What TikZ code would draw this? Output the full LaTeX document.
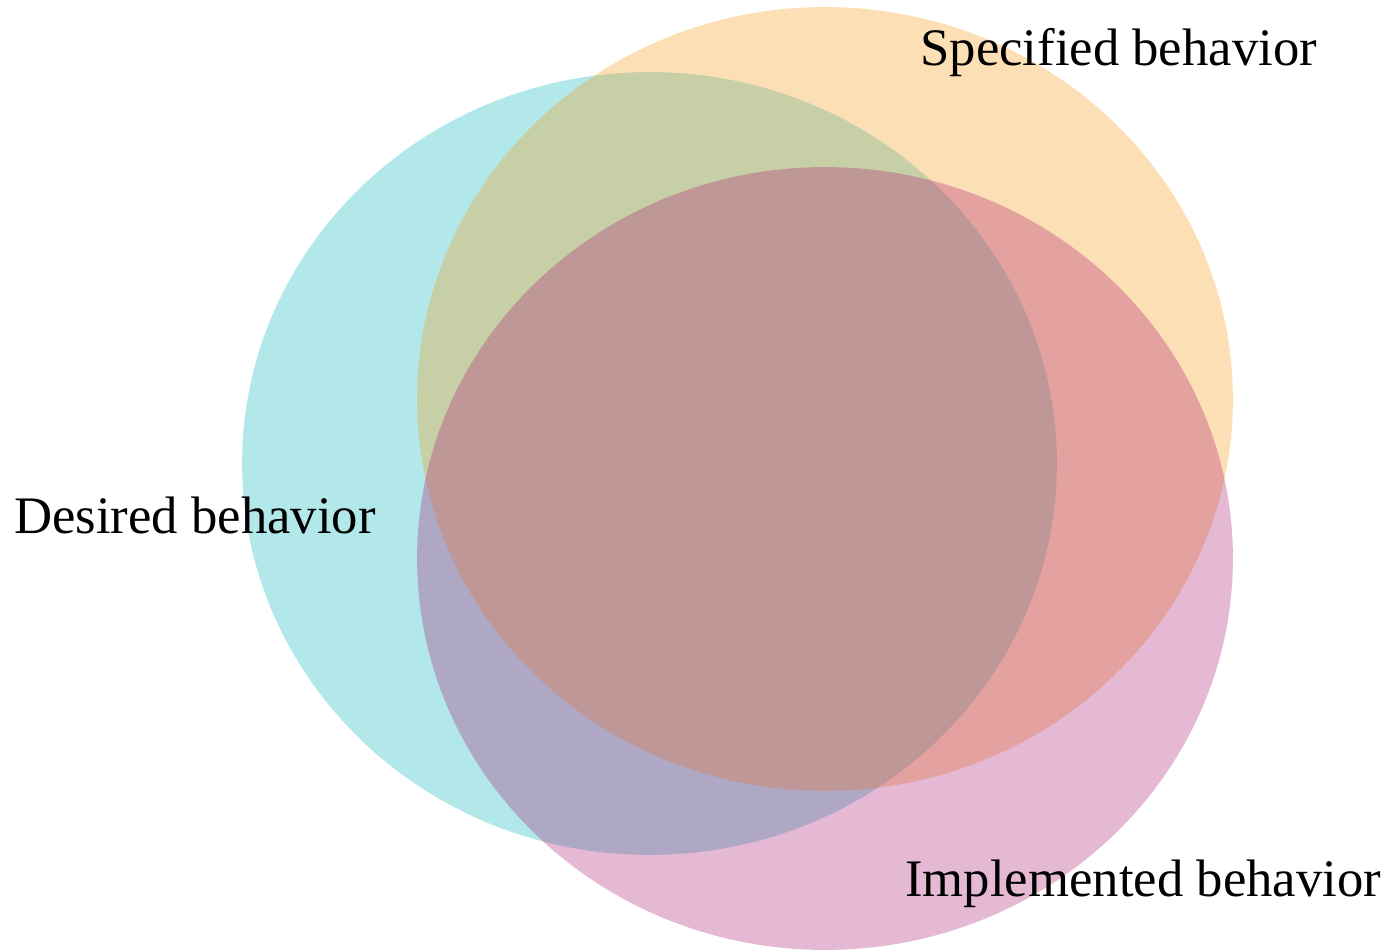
\documentclass[tikz,border=0pt]{standalone}
\usepackage{fontspec}
\setmainfont{Liberation Serif}
\usetikzlibrary{shapes.geometric}
\definecolor{cdesired}{RGB}{0,178,185}
\definecolor{cspec}{RGB}{250,150,10}
\definecolor{cimpl}{RGB}{168,22,114}
\tikzset{
  setel/.style={ellipse, inner sep=0pt, draw=none, fill opacity=0.3},
  lab/.style={font=\fontsize{30}{35}\selectfont, inner sep=0pt, text=black}
}
\begin{document}
\begin{tikzpicture}[x=0.02cm,y=-0.02cm]
\useasboundingbox (0,0) rectangle (1397,950);
\node[setel, fill=cdesired, minimum width=16.3cm, minimum height=15.66cm] (desired) at (649.5,463.5) {};
\node[setel, fill=cspec, minimum width=16.32cm, minimum height=15.68cm] (specified) at (825,399) {};
\node[setel, fill=cimpl, minimum width=16.32cm, minimum height=15.66cm] (implemented) at (825,558.5) {};
\node[lab, anchor=base west] (tspec) at (920,65) {Specified behavior};
\node[lab, anchor=base west] (tdes) at (14,533) {Desired behavior};
\node[lab, anchor=base west] (timpl) at (905,896) {Implemented behavior};
\end{tikzpicture}
\end{document}
